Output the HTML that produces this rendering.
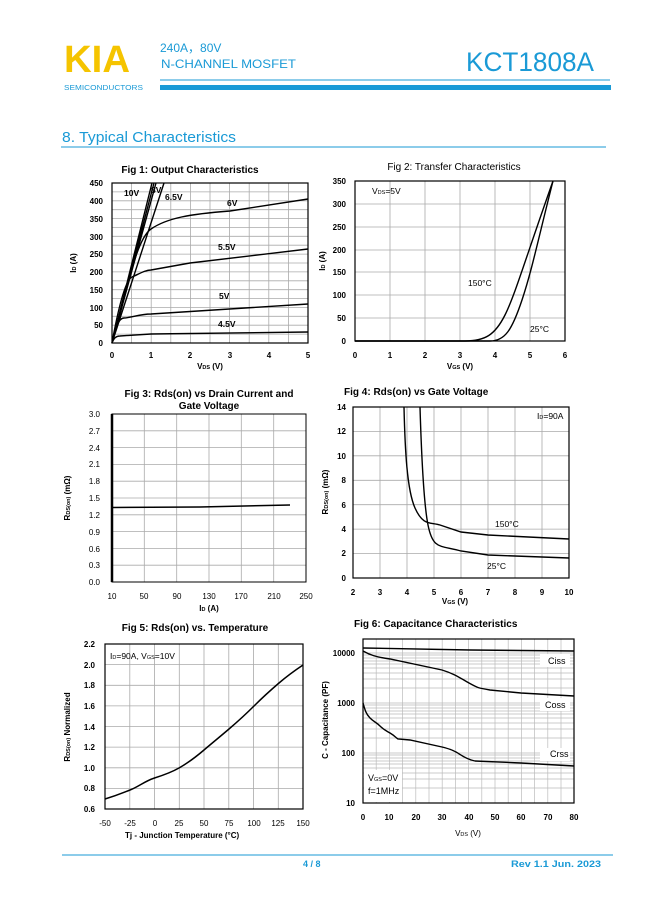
<!DOCTYPE html>
<html><head><meta charset="utf-8"><style>
body{margin:0;width:649px;height:917px;background:#fff;overflow:hidden;font-family:"Liberation Sans",sans-serif}
svg{position:absolute;left:0;top:0}
</style></head><body>
<svg width="649" height="917" viewBox="0 0 649 917" font-family="Liberation Sans, sans-serif">
<!-- header -->
<text x="64" y="72" font-size="38" font-weight="bold" fill="#f5c400" textLength="66" lengthAdjust="spacingAndGlyphs">KIA</text>
<text x="64" y="90" font-size="7.5" fill="#1a9ad6" textLength="79" lengthAdjust="spacingAndGlyphs">SEMICONDUCTORS</text>
<text x="160" y="52" font-size="12" fill="#1a9ad6" font-family="Liberation Sans, Noto Sans CJK SC, sans-serif">240A，80V</text>
<text x="161" y="68" font-size="12" fill="#1a9ad6" textLength="135" lengthAdjust="spacingAndGlyphs">N-CHANNEL MOSFET</text>
<text x="466" y="71" font-size="27" fill="#1a9ad6" textLength="128" lengthAdjust="spacingAndGlyphs">KCT1808A</text>
<line x1="160" y1="80" x2="610" y2="80" stroke="#1a9ad6" stroke-width="1"/>
<rect x="160" y="85" width="451" height="5" fill="#1a9ad6"/>
<text x="62" y="142" font-size="15" fill="#1a9ad6" textLength="174" lengthAdjust="spacingAndGlyphs">8. Typical Characteristics</text>
<line x1="61" y1="147" x2="606" y2="147" stroke="#1a9ad6" stroke-width="1"/>
<!-- footer -->
<line x1="62" y1="855" x2="613" y2="855" stroke="#1a9ad6" stroke-width="1"/>
<text x="303" y="867" font-size="9" font-weight="bold" fill="#1a9ad6">4 / 8</text>
<text x="511" y="867" font-size="9" font-weight="bold" fill="#1a9ad6" textLength="90" lengthAdjust="spacingAndGlyphs">Rev 1.1   Jun. 2023</text>

<g font-size="8" font-weight="bold" fill="#000" stroke="none">
<!-- FIG 1 -->
<text x="190" y="173" font-size="10" text-anchor="middle" font-weight="bold">Fig 1: Output Characteristics</text>
<g stroke="#aaa" stroke-width="0.8">
<path d="M131.6 183V343M151.2 183V343M170.8 183V343M190.4 183V343M210 183V343M229.6 183V343M249.2 183V343M268.8 183V343M288.4 183V343"/>
<path d="M112 191.9H308M112 200.8H308M112 209.7H308M112 218.6H308M112 227.4H308M112 236.3H308M112 245.2H308M112 254.1H308M112 263H308M112 271.9H308M112 280.8H308M112 289.7H308M112 298.6H308M112 307.4H308M112 316.3H308M112 325.2H308M112 334.1H308"/>
</g>
<rect x="112" y="183" width="196" height="160" fill="none" stroke="#000" stroke-width="1.2"/>
<g fill="none" stroke="#000" stroke-width="1.4">
<path d="M112 343L152 183M112 343L154 183M112 343L156 183M112 343L164 183"/>
<path d="M112 343C125 300 135 240 151 229S190 214 230 211L308 199"/>
<path d="M112 343C118 310 125 280 132 277S145 270 151 270L190 263L308 249"/>
<path d="M112 343C115 330 118 318 124 318S140 314 151 314L308 304"/>
<path d="M112 343C114 338 116 336 120 336L151 334L308 332"/>
</g>
<g font-size="8.5"><text x="124" y="196">10V</text><text x="151" y="193">8V</text><text x="165" y="200">6.5V</text><text x="227" y="206">6V</text><text x="218" y="250">5.5V</text><text x="219" y="299">5V</text><text x="218" y="327">4.5V</text></g>
<g text-anchor="end"><text x="103" y="186">450</text><text x="103" y="204">400</text><text x="103" y="222">350</text><text x="103" y="240">300</text><text x="103" y="257">250</text><text x="103" y="275">200</text><text x="103" y="293">150</text><text x="103" y="311">100</text><text x="103" y="328">50</text><text x="103" y="346">0</text></g>
<g text-anchor="middle"><text x="112" y="358">0</text><text x="151" y="358">1</text><text x="190" y="358">2</text><text x="230" y="358">3</text><text x="269" y="358">4</text><text x="308" y="358">5</text><text x="210" y="369">V<tspan font-size="5.5">DS</tspan> (V)</text></g>
<text transform="translate(76 263) rotate(-90)" text-anchor="middle">I<tspan font-size="5.5">D</tspan> (A)</text>

<!-- FIG 2 -->
<text x="454" y="170" font-size="10" text-anchor="middle" font-weight="normal">Fig 2: Transfer Characteristics</text>
<g stroke="#aaa" stroke-width="0.8"><path d="M390 181V341M425 181V341M460 181V341M495 181V341M530 181V341M355 204H565M355 227H565M355 250H565M355 272H565M355 295H565M355 318H565"/></g>
<rect x="355" y="181" width="210" height="160" fill="none" stroke="#000" stroke-width="1.2"/>
<g fill="none" stroke="#000" stroke-width="1.4">
<path d="M355 341L465 341C485 341 495 335 505 315S525 260 553 181"/>
<path d="M355 341L490 341C505 341 512 330 522 300S538 240 553 181"/>
</g>
<g font-weight="normal" font-size="8.5"><text x="372" y="194">V<tspan font-size="5.5">DS</tspan>=5V</text><text x="468" y="286">150°C</text><text x="530" y="332">25°C</text></g>
<g text-anchor="end"><text x="346" y="184">350</text><text x="346" y="207">300</text><text x="346" y="230">250</text><text x="346" y="253">200</text><text x="346" y="275">150</text><text x="346" y="298">100</text><text x="346" y="321">50</text><text x="346" y="344">0</text></g>
<g text-anchor="middle"><text x="355" y="358">0</text><text x="390" y="358">1</text><text x="425" y="358">2</text><text x="460" y="358">3</text><text x="495" y="358">4</text><text x="530" y="358">5</text><text x="565" y="358">6</text><text x="460" y="369">V<tspan font-size="5.5">GS</tspan> (V)</text></g>
<text transform="translate(325 261) rotate(-90)" text-anchor="middle">I<tspan font-size="5.5">D</tspan> (A)</text>

<!-- FIG 3 -->
<text x="209" y="397" font-size="10" text-anchor="middle" font-weight="bold">Fig 3: Rds(on) vs Drain Current and</text>
<text x="209" y="409" font-size="10" text-anchor="middle" font-weight="bold">Gate Voltage</text>
<g stroke="#aaa" stroke-width="0.8"><path d="M144.3 414V582M176.7 414V582M209 414V582M241.3 414V582M273.7 414V582M112 430.8H306M112 447.6H306M112 464.4H306M112 481.2H306M112 498H306M112 514.8H306M112 531.6H306M112 548.4H306M112 565.2H306"/></g>
<rect x="112" y="414" width="194" height="168" fill="none" stroke="#000" stroke-width="1"/>
<line x1="112" y1="414" x2="112" y2="582" stroke="#000" stroke-width="2.5"/>
<path d="M112 507.5L200 507L290 505" fill="none" stroke="#000" stroke-width="1.5"/>
<g text-anchor="end" font-weight="normal"><text x="100" y="417">3.0</text><text x="100" y="434">2.7</text><text x="100" y="451">2.4</text><text x="100" y="467">2.1</text><text x="100" y="484">1.8</text><text x="100" y="501">1.5</text><text x="100" y="518">1.2</text><text x="100" y="535">0.9</text><text x="100" y="552">0.6</text><text x="100" y="568">0.3</text><text x="100" y="585">0.0</text></g>
<g text-anchor="middle" font-weight="normal"><text x="112" y="599">10</text><text x="144" y="599">50</text><text x="177" y="599">90</text><text x="209" y="599">130</text><text x="241" y="599">170</text><text x="274" y="599">210</text><text x="306" y="599">250</text><text x="209" y="611" font-weight="bold">I<tspan font-size="5.5">D</tspan> (A)</text></g>
<text transform="translate(70 498) rotate(-90)" text-anchor="middle">R<tspan font-size="5.5">DS(on)</tspan> (mΩ)</text>

<!-- FIG 4 -->
<text x="344" y="395" font-size="10" font-weight="bold">Fig 4: Rds(on) vs Gate Voltage</text>
<g stroke="#aaa" stroke-width="0.8"><path d="M380 407V578M407 407V578M434 407V578M461 407V578M488 407V578M515 407V578M542 407V578M353 431.4H569M353 455.8H569M353 480.3H569M353 504.7H569M353 529.1H569M353 553.6H569"/></g>
<rect x="353" y="407" width="216" height="171" fill="none" stroke="#000" stroke-width="1.2"/>
<g fill="none" stroke="#000" stroke-width="1.4">
<path d="M420 407C421 440 423 500 428 525S440 545 461 551L488 555L569 558"/>
<path d="M404 407C405 450 407 490 415 508S430 522 440 525L461 532L488 535L569 539"/>
</g>
<g font-weight="normal" font-size="8.5"><text x="537" y="419">I<tspan font-size="5.5">D</tspan>=90A</text><text x="495" y="527">150°C</text><text x="487" y="569">25°C</text></g>
<g text-anchor="end"><text x="346" y="410">14</text><text x="346" y="434">12</text><text x="346" y="459">10</text><text x="346" y="483">8</text><text x="346" y="508">6</text><text x="346" y="532">4</text><text x="346" y="556">2</text><text x="346" y="581">0</text></g>
<g text-anchor="middle"><text x="353" y="595">2</text><text x="380" y="595">3</text><text x="407" y="595">4</text><text x="434" y="595">5</text><text x="461" y="595">6</text><text x="488" y="595">7</text><text x="515" y="595">8</text><text x="542" y="595">9</text><text x="569" y="595">10</text><text x="455" y="604">V<tspan font-size="5.5">GS</tspan> (V)</text></g>
<text transform="translate(328 492) rotate(-90)" text-anchor="middle">R<tspan font-size="5.5">DS(on)</tspan> (mΩ)</text>

<!-- FIG 5 -->
<text x="195" y="631" font-size="10" text-anchor="middle" font-weight="bold">Fig 5: Rds(on) vs. Temperature</text>
<g stroke="#aaa" stroke-width="0.8"><path d="M129.8 644V809M154.5 644V809M179.3 644V809M204 644V809M228.8 644V809M253.5 644V809M278.3 644V809M105 664.6H303M105 685.3H303M105 705.9H303M105 726.5H303M105 747.1H303M105 767.8H303M105 788.4H303"/></g>
<rect x="105" y="644" width="198" height="165" fill="none" stroke="#000" stroke-width="1.2"/>
<path d="M105 799C118 795 122 793 130 790S145 781 154.5 778S172 772 179 768S197 756 204 750S222 735 229 729S247 713 254 706S272 689 279 683S297 669 303 665" fill="none" stroke="#000" stroke-width="1.5"/>
<text x="110" y="659" font-weight="normal" font-size="8.5">I<tspan font-size="5.5">D</tspan>=90A, V<tspan font-size="5.5">GS</tspan>=10V</text>
<g text-anchor="end"><text x="95" y="647">2.2</text><text x="95" y="668">2.0</text><text x="95" y="688">1.8</text><text x="95" y="709">1.6</text><text x="95" y="730">1.4</text><text x="95" y="750">1.2</text><text x="95" y="771">1.0</text><text x="95" y="791">0.8</text><text x="95" y="812">0.6</text></g>
<g text-anchor="middle" font-weight="normal"><text x="105" y="826">-50</text><text x="130" y="826">-25</text><text x="155" y="826">0</text><text x="179" y="826">25</text><text x="204" y="826">50</text><text x="229" y="826">75</text><text x="254" y="826">100</text><text x="278" y="826">125</text><text x="303" y="826">150</text></g>
<text x="125" y="838" font-weight="bold">Tj - Junction Temperature (°C)</text>
<text transform="translate(70 727) rotate(-90)" text-anchor="middle">R<tspan font-size="5.5">DS(on)</tspan> Normalized</text>

<!-- FIG 6 -->
<text x="354" y="627" font-size="10" font-weight="bold">Fig 6: Capacitance Characteristics</text>
<g stroke="#bbb" stroke-width="0.7">
<path d="M376.2 639V803M389.4 639V803M402.6 639V803M415.8 639V803M429 639V803M442.2 639V803M455.4 639V803M468.6 639V803M481.8 639V803M495 639V803M508.2 639V803M521.4 639V803M534.6 639V803M547.8 639V803M561 639V803"/>
<path d="M363 653H574M363 703H574M363 753H574"/>
<path d="M363 788H574M363 779H574M363 773H574M363 768H574M363 764H574M363 761H574M363 758H574M363 755H574
M363 738H574M363 729H574M363 723H574M363 718H574M363 714H574M363 711H574M363 708H574M363 705H574
M363 688H574M363 679H574M363 673H574M363 668H574M363 664H574M363 661H574M363 658H574M363 655H574"/>
</g>
<rect x="363" y="639" width="211" height="164" fill="none" stroke="#000" stroke-width="1.2"/>
<rect x="540" y="654" width="30" height="13" fill="#fff"/>
<rect x="540" y="698" width="30" height="13" fill="#fff"/>
<rect x="540" y="748" width="30" height="13" fill="#fff"/>
<rect x="364" y="770" width="38" height="32" fill="#fff"/>
<g fill="none" stroke="#000" stroke-width="1.4">
<path d="M363 648L470 650L574 651"/>
<path d="M363 651C370 655 376 657 390 659L442 670C455 674 460 678 469 683S478 688 490 690L521 693L574 696"/>
<path d="M363 703C365 710 366 714 370 718S376 722 380 726S385 730 390 733S395 737 398 739L410 740L442 747C450 749 452 750 456 752S465 759 475 761L521 763L574 766"/>
</g>
<g font-weight="normal" font-size="9"><text x="548" y="664">Ciss</text><text x="545" y="708">Coss</text><text x="550" y="757">Crss</text><text x="368" y="781">V<tspan font-size="5.5">GS</tspan>=0V</text><text x="368" y="794">f=1MHz</text></g>
<g text-anchor="end"><text x="355" y="656">10000</text><text x="355" y="706">1000</text><text x="355" y="756">100</text><text x="355" y="806">10</text></g>
<g text-anchor="middle"><text x="363" y="820">0</text><text x="389" y="820">10</text><text x="416" y="820">20</text><text x="442" y="820">30</text><text x="469" y="820">40</text><text x="495" y="820">50</text><text x="521" y="820">60</text><text x="548" y="820">70</text><text x="574" y="820">80</text><text x="468" y="836" font-weight="normal">V<tspan font-size="5.5">DS</tspan> (V)</text></g>
<text transform="translate(328 720) rotate(-90)" text-anchor="middle">C - Capacitance (PF)</text>
</g>
</svg>
</body></html>
